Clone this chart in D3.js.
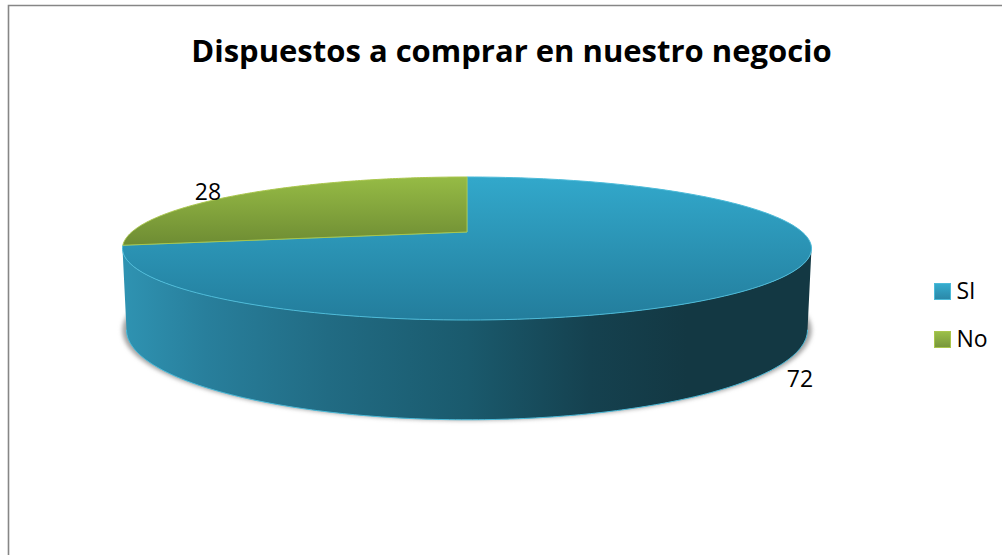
<!DOCTYPE html>
<html><head><meta charset="utf-8">
<script src="https://cdn.jsdelivr.net/npm/d3@7"></script>
<style>html,body{margin:0;padding:0;background:#fff}svg{display:block}text{font-family:"Open Sans",Lato,sans-serif;fill:#000}</style>
</head><body>
<svg id="chart" width="1002" height="555"></svg>
<script>
const title = "Dispuestos a comprar en nuestro negocio";
const categories = ["SI", "No"];
const values = [72, 28];
const topColors = [["#32a8cb", "#237d9c"], ["#96bb45", "#6e8c33"]];
const legendColors = [["#36aed0", "#2a86a6"], ["#9cc04a", "#76953a"]];
const edgeColors = ["#4cbbd9", "#a9c64c"];
const wallStops = [[0, "#2f93b2"], [0.12, "#287f9c"], [0.3, "#216b83"], [0.5, "#1a5a6d"], [0.68, "#15414f"], [0.82, "#133843"], [1, "#133843"]];

const svg = d3.select("#chart");
const defs = svg.append("defs");
const tilt = 0.2308;

// Perspective projection of a unit disc: v points towards the viewer.
function disc(cx, cy, a, b) {
  return t => {
    const u = Math.sin(t), v = -Math.cos(t), w = 1 - tilt * v;
    return [cx + b * u / w, cy + a * v / w];
  };
}
const centre = [467, 232];
const topDisc = disc(centre[0], centre[1], 67.7, 335.2);
const baseDisc = disc(centre[0], 309, 85.2, 331.3);

const arcs = d3.pie().value(d => d).sort(null)(values);
const line = d3.line();
const samples = (a0, a1, n = 160) => d3.range(n + 1).map(i => a0 + (a1 - a0) * i / n);

function gradient(id, stops, x1, y1, x2, y2) {
  const g = defs.append("linearGradient").attr("id", id).attr("gradientUnits", "userSpaceOnUse")
    .attr("x1", x1).attr("y1", y1).attr("x2", x2).attr("y2", y2);
  stops.forEach(s => g.append("stop").attr("offset", s[0]).attr("stop-color", s[1]));
}
gradient("top0", [[0, topColors[0][0]], [1, topColors[0][1]]], 0, 177, 0, 320);
gradient("top1", [[0, topColors[1][0]], [1, topColors[1][1]]], 0, 177, 0, 245);
gradient("wall", wallStops, 122, 0, 811, 0);
defs.append("filter").attr("id", "soft").attr("x", "-5%").attr("y", "-5%").attr("width", "110%").attr("height", "110%")
  .append("feGaussianBlur").attr("stdDeviation", 2);

// Frame: only the top and left edges are visible
svg.append("path").attr("d", "M8.5,555V5.5H1002").attr("fill", "none").attr("stroke", "#868686").attr("stroke-width", 1.6);

svg.append("text").attr("x", 511.5).attr("y", 62).attr("text-anchor", "middle")
  .attr("font-size", 31).attr("font-weight", 700).text(title);

// Drop shadow under the base of the disc
svg.append("path").attr("d", line(samples(0, 2 * Math.PI, 240).map(t => {
  const p = baseDisc(t);
  return [centre[0] + (p[0] - centre[0]) * 1.012, p[1] + 0.5];
})) + "Z").attr("fill", "#a2a2a2").attr("filter", "url(#soft)");

// Front wall between the top rim and the base rim
const widest = Math.asin(tilt);
const front = samples(Math.PI / 2 + widest, 3 * Math.PI / 2 - widest, 200);
const wallPts = front.map(topDisc).concat(front.slice().reverse().map(baseDisc));
svg.append("path").attr("d", line(wallPts) + "Z").attr("fill", "url(#wall)");
svg.append("path").attr("d", line(front.map(baseDisc))).attr("fill", "none").attr("stroke", edgeColors[0]).attr("stroke-width", 1);

// Top face of each slice
arcs.forEach((a, i) => {
  const rim = samples(a.startAngle, a.endAngle).map(topDisc);
  svg.append("path").attr("d", line([centre].concat(rim)) + "Z")
    .attr("fill", `url(#top${i})`).attr("stroke", edgeColors[i]).attr("stroke-width", 1);
});

// Value labels
const labelPos = [[800, 387], [208, 200]];
values.forEach((v, i) => {
  svg.append("text").attr("x", labelPos[i][0]).attr("y", labelPos[i][1]).attr("text-anchor", "middle")
    .attr("font-size", 23).text(v);
});

// Legend
categories.forEach((c, i) => {
  const y = 283 + i * 48;
  gradient(`leg${i}`, [[0, legendColors[i][0]], [1, legendColors[i][1]]], 0, y, 0, y + 17);
  svg.append("rect").attr("x", 934.5).attr("y", y + 0.5).attr("width", 16).attr("height", 16)
    .attr("fill", `url(#leg${i})`).attr("stroke", edgeColors[i]).attr("stroke-width", 1);
  svg.append("text").attr("x", 956.5).attr("y", y + 15.5).attr("font-size", 23).text(c);
});
</script>
</body></html>
